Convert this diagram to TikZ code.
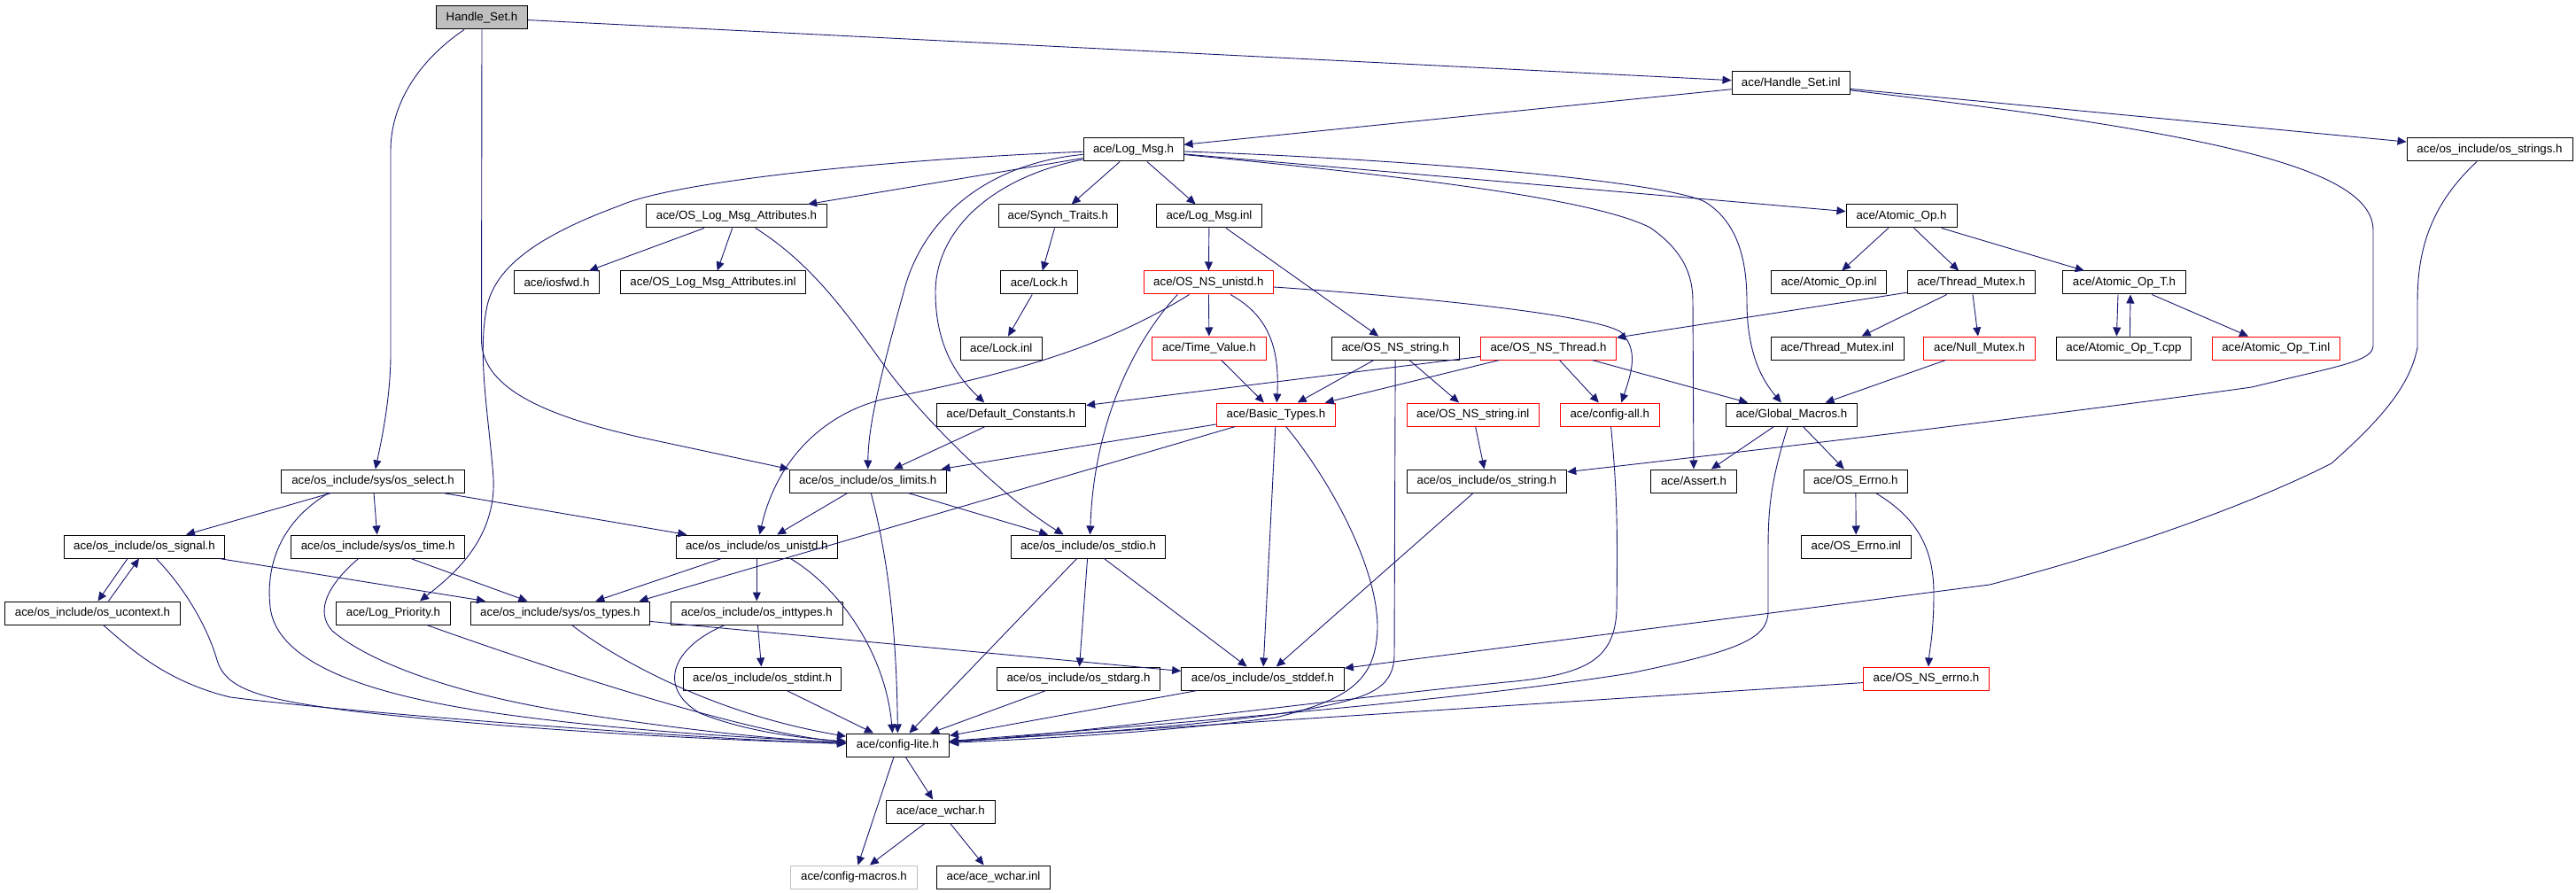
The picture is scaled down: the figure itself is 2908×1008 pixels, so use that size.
\documentclass[tikz,border=0pt]{standalone}
\usepackage{fontspec}
\setmainfont{Liberation Sans}
\usetikzlibrary{arrows.meta}
\definecolor{edgecol}{HTML}{191970}
\definecolor{redb}{HTML}{FF0000}
\definecolor{grayb}{HTML}{BFBFBF}
\begin{document}
\begin{tikzpicture}[x=1pt,y=-1pt,
 box/.style={draw=black, line width=1pt, inner sep=0pt, minimum height=26pt, font=\fontsize{13.3}{16}\selectfont, fill=white},
 redbox/.style={box, draw=redb},
 edge/.style={draw=edgecol, line width=0.9pt, -{Triangle[length=10pt,width=9pt]}},
]
\fill[white] (0,0) rectangle (2908,1008);
\useasboundingbox (0,0) rectangle (2908,1008);

\node[box, fill=grayb, minimum width=103] (hs) at (544,20) {Handle\_Set.h};
\node[box, minimum width=133.5] (hsi) at (2021.8,94) {ace/Handle\_Set.inl};
\node[box, minimum width=113] (lm) at (1279.5,169) {ace/Log\_Msg.h};
\node[box, minimum width=187] (ostrs) at (2810.5,169) {ace/os\_include/os\_strings.h};
\node[box, minimum width=204.4] (olma) at (831.5,244) {ace/OS\_Log\_Msg\_Attributes.h};
\node[box, minimum width=134] (st) at (1194.4,244) {ace/Synch\_Traits.h};
\node[box, minimum width=118.7] (lmi) at (1365,244) {ace/Log\_Msg.inl};
\node[box, minimum width=125] (aop) at (2146.5,244) {ace/Atomic\_Op.h};
\node[box, minimum width=96] (iosf) at (628.5,319) {ace/iosfwd.h};
\node[box, minimum width=209] (olmai) at (805,319) {ace/OS\_Log\_Msg\_Attributes.inl};
\node[box, minimum width=87] (lock) at (1173,319) {ace/Lock.h};
\node[redbox, minimum width=146] (nsun) at (1364.3,319) {ace/OS\_NS\_unistd.h};
\node[box, minimum width=130] (aopi) at (2064.5,319) {ace/Atomic\_Op.inl};
\node[box, minimum width=144] (tm) at (2225.3,319) {ace/Thread\_Mutex.h};
\node[box, minimum width=139.3] (aopt) at (2398,319) {ace/Atomic\_Op\_T.h};
\node[box, minimum width=91.7] (locki) at (1130.3,393) {ace/Lock.inl};
\node[redbox, minimum width=129] (tv) at (1365,393) {ace/Time\_Value.h};
\node[box, minimum width=144] (nsstr) at (1575.2,393) {ace/OS\_NS\_string.h};
\node[redbox, minimum width=153] (nsth) at (1748,393) {ace/OS\_NS\_Thread.h};
\node[box, minimum width=150] (tmi) at (2074,393) {ace/Thread\_Mutex.inl};
\node[redbox, minimum width=125.5] (nm) at (2234.6,393) {ace/Null\_Mutex.h};
\node[box, minimum width=152] (aoptc) at (2397.4,393) {ace/Atomic\_Op\_T.cpp};
\node[redbox, minimum width=144] (aopti) at (2569.3,393) {ace/Atomic\_Op\_T.inl};
\node[box, minimum width=168.6] (dc) at (1141.3,468) {ace/Default\_Constants.h};
\node[redbox, minimum width=134] (bt) at (1440.5,468) {ace/Basic\_Types.h};
\node[redbox, minimum width=149.5] (nsstri) at (1662.8,468) {ace/OS\_NS\_string.inl};
\node[redbox, minimum width=112] (ca) at (1817.3,468) {ace/config-all.h};
\node[box, minimum width=148] (gm) at (2022.4,468) {ace/Global\_Macros.h};
\node[box, minimum width=207] (sel) at (421,543) {ace/os\_include/sys/os\_select.h};
\node[box, minimum width=177] (lim) at (979.7,543) {ace/os\_include/os\_limits.h};
\node[box, minimum width=180.7] (str) at (1678.4,543) {ace/os\_include/os\_string.h};
\node[box, minimum width=97] (as) at (1912,543) {ace/Assert.h};
\node[box, minimum width=116.8] (err) at (2094.8,543) {ace/OS\_Errno.h};
\node[box, minimum width=180.7] (sig) at (163,617) {ace/os\_include/os\_signal.h};
\node[box, minimum width=196] (tim) at (426.7,617) {ace/os\_include/sys/os\_time.h};
\node[box, minimum width=182] (uni) at (854.3,617) {ace/os\_include/os\_unistd.h};
\node[box, minimum width=174.6] (stdio) at (1228.6,617) {ace/os\_include/os\_stdio.h};
\node[box, minimum width=123.4] (erri) at (2095.3,617) {ace/OS\_Errno.inl};
\node[box, minimum width=197.8] (uctx) at (104.5,692) {ace/os\_include/os\_ucontext.h};
\node[box, minimum width=129] (lp) at (444,692) {ace/Log\_Priority.h};
\node[box, minimum width=201.3] (typ) at (632.4,692) {ace/os\_include/sys/os\_types.h};
\node[box, minimum width=194] (intt) at (854.3,692) {ace/os\_include/os\_inttypes.h};
\node[box, minimum width=177.8] (stdint) at (860.6,766) {ace/os\_include/os\_stdint.h};
\node[box, minimum width=184] (stdarg) at (1217.5,766) {ace/os\_include/os\_stdarg.h};
\node[box, minimum width=183.7] (stddef) at (1425.5,766) {ace/os\_include/os\_stddef.h};
\node[redbox, minimum width=142.4] (nserr) at (2174.5,766) {ace/OS\_NS\_errno.h};
\node[box, minimum width=116] (cl) at (1013.5,841) {ace/config-lite.h};
\node[box, minimum width=123] (wc) at (1061.8,916) {ace/ace\_wchar.h};
\node[box, draw=grayb, minimum width=143.3] (cm) at (964,990) {ace/config-macros.h};
\node[box, minimum width=128] (wci) at (1121.5,990) {ace/ace\_wchar.inl};

% Handle_Set.h
\draw[edge] (hs) -- (hsi);
\draw[edge] (hs) .. controls (470,70) and (441,120) .. (441,170) -- (441,400) .. controls (441,450) and (430,500) .. (sel);
\draw[edge] (hs.south) -- (543.5,385) .. controls (545,440) and (620,470) .. (720,493) -- (lim.north west);
% Handle_Set.inl
\draw[edge] (hsi) -- (lm);
\draw[edge] (hsi) -- (ostrs);
\draw[edge] (hsi) .. controls (2500,150) and (2679,190) .. (2679,260) -- (2679,390) .. controls (2679,408) and (2640,413) .. (2542,437) .. controls (2400,457) and (2100,495) .. (str);
% os_strings.h
\draw[edge] (ostrs) .. controls (2745,230) and (2729,280) .. (2729,340) -- (2729,392) .. controls (2720,440) and (2680,480) .. (2632,523) .. controls (2560,560) and (2420,615) .. (2246,660) -- (stddef);
% Log_Msg.h
\draw[edge] (lm) -- (olma);
\draw[edge] (lm) -- (st);
\draw[edge] (lm) -- (lmi);
\draw[edge] (lm) -- (aop);
\draw[edge] (lm) .. controls (1600,180) and (1880,205) .. (1925,228) .. controls (1960,250) and (1972,290) .. (1972,340) .. controls (1972,400) and (1990,430) .. (gm);
\draw[edge] (lm) .. controls (1600,200) and (1800,225) .. (1863,257) .. controls (1900,283) and (1911,310) .. (1911,340) -- (as);
\draw[edge] (lm) .. controls (1120,200) and (1056,260) .. (1056,330) .. controls (1056,390) and (1080,425) .. ([xshift=-30pt]dc.north);
\draw[edge] (lm) .. controls (1110,185) and (1040,250) .. (1020,330) .. controls (995,420) and (980,480) .. (lim);
\draw[edge] (lm) .. controls (1000,180) and (760,205) .. (700,232) .. controls (610,265) and (560,300) .. (550,345) .. controls (538,400) and (552,470) .. (557,540) .. controls (560,610) and (510,650) .. ([xshift=30pt]lp.north);
% Log_Msg.inl
\draw[edge] (lmi) -- (nsun);
\draw[edge] (lmi) -- (nsstr);
% OS_Log_Msg_Attributes.h
\draw[edge] (olma) -- (iosf);
\draw[edge] (olma) -- (olmai);
\draw[edge] (olma) .. controls (920,300) and (960,360) .. (1000,415) .. controls (1040,470) and (1130,560) .. ([xshift=-28pt]stdio.north);
\draw[edge] (st) -- (lock);
\draw[edge] (lock) -- (locki);
% OS_NS_unistd.h
\draw[edge] (nsun) -- (tv);
\draw[edge] (nsun) .. controls (1430,355) and (1445,390) .. (bt);
\draw[edge] (nsun) .. controls (1250,390) and (1150,420) .. (1000,450) .. controls (945,462) and (880,505) .. (uni);
\draw[edge] ([xshift=-35pt]nsun.south) .. controls (1285,380) and (1235,470) .. ([xshift=2pt]stdio.north);
\draw[edge] (nsun) .. controls (1600,335) and (1800,355) .. (1830,375) .. controls (1850,395) and (1842,420) .. ([xshift=13pt]ca.north);
\draw[edge] (tv) -- (bt);
% OS_NS_string.h
\draw[edge] (nsstr) -- (bt);
\draw[edge] (nsstr) -- (nsstri);
\draw[edge] (nsstr) -- (1574,740) .. controls (1573,780) and (1540,788) .. (1480,800) .. controls (1350,822) and (1150,832) .. (cl);
% OS_NS_Thread.h
\draw[edge] (nsth) -- (bt);
\draw[edge] (nsth) -- (dc);
\draw[edge] (nsth) -- (ca);
\draw[edge] (nsth) -- (gm);
% Thread_Mutex.h
\draw[edge] (tm) -- (nsth);
\draw[edge] (tm) -- (tmi);
\draw[edge] (tm) -- (nm);
\draw[edge] (nm) -- (gm);
% Atomic_Op
\draw[edge] (aop) -- (aopi);
\draw[edge] (aop) -- (tm);
\draw[edge] (aop) -- (aopt);
\draw[edge] ([xshift=-7pt]aopt.south) -- ([xshift=-8pt]aoptc.north);
\draw[edge] ([xshift=7pt]aoptc.north) -- ([xshift=7pt]aopt.south);
\draw[edge] (aopt) -- (aopti);
% Default_Constants, Basic_Types
\draw[edge] (dc) -- (lim);
\draw[edge] (bt) -- (lim);
\draw[edge] (bt) -- ([xshift=-12pt]typ.north east);
\draw[edge] (bt) -- (stddef);
\draw[edge] (bt) .. controls (1500,540) and (1556,640) .. (1555,710) .. controls (1553,770) and (1520,790) .. (1440,810) .. controls (1300,828) and (1150,835) .. (cl);
\draw[edge] (nsstri) -- (str);
\draw[edge] (ca) .. controls (1826,560) and (1826,600) .. (1825,690) .. controls (1822,745) and (1790,762) .. (1700,770) .. controls (1500,790) and (1200,830) .. (cl);
% Global_Macros.h
\draw[edge] (gm) -- (as);
\draw[edge] (gm) -- (err);
\draw[edge] (gm) .. controls (2000,540) and (1996,570) .. (1996,620) -- (1996,690) .. controls (1996,722) and (1960,735) .. (1840,760) .. controls (1650,790) and (1350,815) .. (cl);
\draw[edge] (str) -- (stddef);
% OS_Errno.h
\draw[edge] (err) -- (erri);
\draw[edge] (err) .. controls (2165,585) and (2183,620) .. (2183,670) .. controls (2183,715) and (2178,735) .. ([xshift=2.5pt]nserr.north);
\draw[edge] (nserr) -- (cl);
% os_select.h
\draw[edge] (sel) -- (sig);
\draw[edge] (sel) -- (tim);
\draw[edge] ([xshift=-50pt]sel.south) .. controls (315,590) and (300,640) .. (305,685) .. controls (312,750) and (420,785) .. (560,805) .. controls (700,825) and (850,833) .. (cl);
\draw[edge] (sel) -- (uni);
% os_limits.h
\draw[edge] (lim) -- (uni);
\draw[edge] (lim) -- (stdio);
\draw[edge] (lim) .. controls (1000,620) and (1012,700) .. (cl);
% os_signal.h / os_ucontext.h
\draw[edge] ([xshift=-19pt]sig.south) -- ([xshift=6pt]uctx.north);
\draw[edge] ([xshift=18pt]uctx.north) -- ([xshift=-6pt]sig.south);
\draw[edge] (sig) -- (typ);
\draw[edge] (sig) .. controls (210,665) and (235,710) .. (245,745) .. controls (255,780) and (300,790) .. (400,803) .. controls (600,825) and (800,835) .. (cl);
\draw[edge] ([xshift=12pt]uctx.south) .. controls (150,735) and (190,770) .. (260,787) .. controls (400,805) and (800,835) .. (cl);
% os_time.h
\draw[edge] (tim) -- (typ);
\draw[edge] ([xshift=-22pt]tim.south) .. controls (370,660) and (355,690) .. (375,712) .. controls (420,750) and (520,785) .. (650,805) .. controls (780,825) and (880,835) .. (cl);
% Log_Priority.h, os_types.h
\draw[edge] (lp) .. controls (620,755) and (850,830) .. (cl);
\draw[edge] (typ) -- (stddef);
\draw[edge] ([xshift=13pt]typ.south) .. controls (690,740) and (800,805) .. (cl);
% os_unistd.h
\draw[edge] (uni) -- (typ);
\draw[edge] (uni) -- (intt);
\draw[edge] ([xshift=38pt]uni.south) .. controls (950,665) and (1000,740) .. ([xshift=-6pt]cl.north);
% os_stdio.h
\draw[edge] (stdio) -- (stdarg);
\draw[edge] (stdio) -- (stddef);
\draw[edge] (stdio) -- (cl);
% os_inttypes.h
\draw[edge] (intt) -- (stdint);
\draw[edge] ([xshift=-36pt]intt.south) .. controls (760,730) and (740,775) .. (790,805) .. controls (840,825) and (900,833) .. (cl);
\draw[edge] (stdint) -- (cl);
\draw[edge] (stdarg) -- (cl);
\draw[edge] (stddef) -- (cl);
% config-lite.h, ace_wchar.h
\draw[edge] (cl) -- (wc);
\draw[edge] (cl) -- (cm);
\draw[edge] (wc) -- (cm);
\draw[edge] (wc) -- (wci);
\end{tikzpicture}
\end{document}
